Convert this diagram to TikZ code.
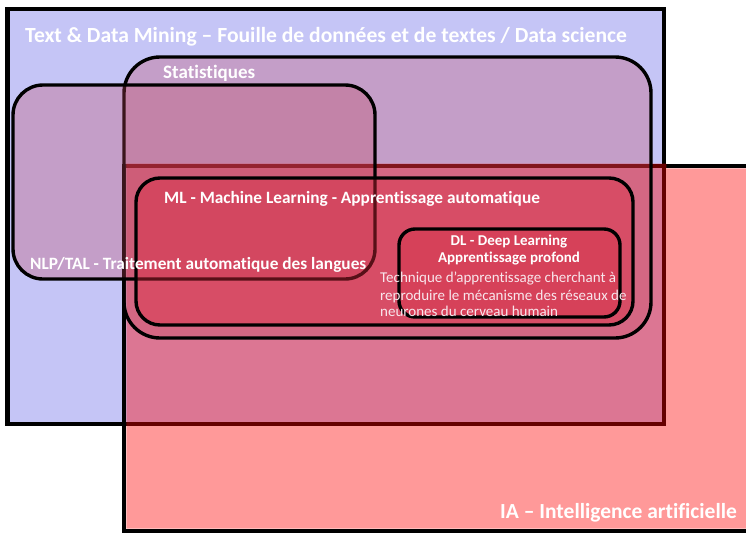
\documentclass[tikz,border=0pt]{standalone}
\usepackage{fontspec}
\setmainfont{Carlito}[Ligatures=NoCommon]
\definecolor{tdmblue}{RGB}{197,197,246}
\definecolor{statc}{RGB}{194,70,95}
\definecolor{mlc}{RGB}{220,40,60}
\definecolor{dlc}{RGB}{212,40,60}
\definecolor{techc}{RGB}{248,230,236}
\begin{document}
\begin{tikzpicture}[x=1pt,y=-1pt,
  lbl/.style={text=white,inner sep=0pt,anchor=base west,font=\bfseries\fontsize{17.3}{20}\selectfont},
  bigl/.style={lbl,font=\bfseries\fontsize{21.6}{24}\selectfont},
  dll/.style={text=white,inner sep=0pt,anchor=base,font=\bfseries\fontsize{15}{18}\selectfont},
  techl/.style={text=techc,inner sep=0pt,anchor=base west,font=\fontsize{15}{18}\selectfont},
  setbox/.style={draw=black,line width=3.4pt}]
\useasboundingbox (0,0) rectangle (746,533);
\fill[white] (0,0) rectangle (746,533);
% Text & Data Mining
\draw[fill=tdmblue,line width=4.5pt] (7.5,9) rectangle (664,424);
% IA border
\draw[line width=4.5pt] (124,166) rectangle (760,531);
% IA translucent red fill
\fill[red,fill opacity=0.4] (126.3,163.5) -- (666.3,163.5) -- (666.3,168.3) -- (760,168.3) -- (760,528.7) -- (126.3,528.7) -- cycle;
% Statistiques
\draw[setbox,fill=statc,fill opacity=0.3,rounded corners=36pt] (124,57) rectangle (651,338);
% NLP
\draw[setbox,fill=statc,fill opacity=0.3,rounded corners=30pt] (13,85) rectangle (375,279);
% ML
\draw[setbox,fill=mlc,fill opacity=0.4,rounded corners=24pt] (136,178) rectangle (633,325);
% DL
\draw[setbox,fill=dlc,fill opacity=0.3,rounded corners=16pt] (399,229) rectangle (620,317);
% labels
\node[bigl] (tdm) at (25,42) {Text \& Data Mining – Fouille de données et de textes / Data science};
\node[lbl,font=\bfseries\fontsize{19}{22}\selectfont] (stat) at (163,78.5) {Statistiques};
\node[lbl] (nlp) at (30,269.5) {NLP/TAL - Traitement automatique des langues};
\node[lbl] (ml) at (164,203.5) {ML - Machine Learning - Apprentissage automatique};
\node[dll] (dl1) at (509,245.7) {DL - Deep Learning};
\node[dll] (dl2) at (509,262.3) {Apprentissage profond};
\node[techl] (t1) at (380,282.3) {Technique d’apprentissage cherchant à};
\node[techl] (t2) at (380,300) {reproduire le mécanisme des réseaux de};
\node[techl] (t3) at (380,316.8) {neurones du cerveau humain};
\node[bigl,font=\bfseries\fontsize{21.5}{24}\selectfont] (ia) at (500,518.5) {IA – Intelligence artificielle};
\end{tikzpicture}
\end{document}
